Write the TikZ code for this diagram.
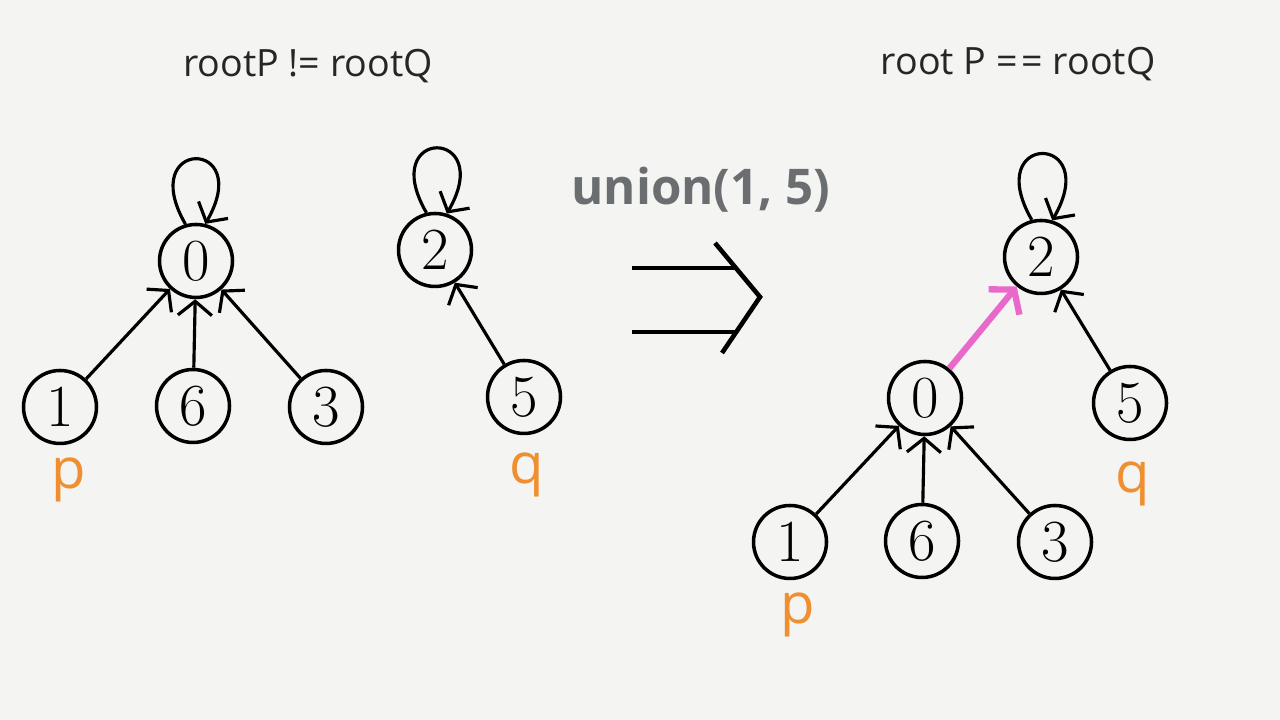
\documentclass[tikz,border=0pt]{standalone}
\usepackage{fontspec}
\usepackage{tikz}
\usetikzlibrary{arrows.meta, positioning}
\newfontfamily\headfont{Open Sans}
\definecolor{paper}{HTML}{F4F4F2}
\definecolor{labelorange}{HTML}{EF8F2F}
\definecolor{uniongray}{HTML}{6B6E70}
\definecolor{linkpink}{HTML}{E869C9}

\begin{document}
\begin{tikzpicture}[
    >={Straight Barb[length=1.4mm, width=3.4mm]},
    elem/.style={circle, draw, line width=1pt, minimum size=0.73cm, inner sep=0pt, font=\fontsize{17}{17}\selectfont},
    link/.style={->, line width=0.9pt},
    newlink/.style={-{Straight Barb[length=1.6mm, width=4mm]}, line width=1.8pt, draw=linkpink},
    ptr/.style={text=labelorange, font=\headfont\fontsize{16}{16}\selectfont, inner sep=0pt},
    caption/.style={font=\headfont\fontsize{10.7}{10.7}\selectfont, text=black!85}
]

% Background
\fill[paper] (0,0) rectangle (12.8,7.2);
\useasboundingbox (0,0) rectangle (12.8,7.2);

% Captions
\node[caption] (capleft) at (3.08,6.54) {rootP != rootQ};
\node[caption] (capright) at (10.18,6.56) {root P =\kern0.1em= rootQ};
\node[font=\headfont\bfseries\fontsize{14}{14}\selectfont, text=uniongray] (op) at (7.01,5.30) {union(1, 5)};

% Before: two trees
\node[elem] (a0) at (1.96,4.59) {0};
\node[elem] (a1) at (0.60,3.13) {1};
\node[elem] (a6) at (1.93,3.14) {6};
\node[elem] (a3) at (3.26,3.13) {3};
\node[elem] (a2) at (4.35,4.70) {2};
\node[elem] (a5) at (5.24,3.23) {5};

\draw[link] (a1) -- (a0);
\draw[link] (a6) -- (a0);
\draw[link] (a3) -- (a0);
\draw[link] (a5) -- (a2);
\draw[link] (a0.106) .. controls +(120:1.0) and +(60:1.0) .. (a0.76);
\draw[link] (a2.103) .. controls +(120:1.0) and +(60:1.0) .. (a2.72);

\node[ptr] (pleft) [below=0.12cm of a1, xshift=0.09cm] {p};
\node[ptr] (qleft) [below=0.17cm of a5, xshift=0.03cm] {q};

% Implies arrow
\coordinate (ia) at (6.32,4.52);
\coordinate (ib) at (7.37,4.52);
\coordinate (ic) at (6.32,3.88);
\coordinate (id) at (7.37,3.88);
\coordinate (ctop) at (7.15,4.77);
\coordinate (ctip) at (7.60,4.23);
\coordinate (cbot) at (7.22,3.67);
\draw[line width=1.3pt] (ia) -- (ib);
\draw[line width=1.3pt] (ic) -- (id);
\draw[line width=1.3pt] (ctop) -- (ctip) -- (cbot);

% After: merged tree
\node[elem] (b2) at (10.41,4.63) {2};
\node[elem] (b5) at (11.30,3.17) {5};
\node[elem] (b0) at (9.25,3.22) {0};
\node[elem] (b1) at (7.90,1.78) {1};
\node[elem] (b6) at (9.22,1.79) {6};
\node[elem] (b3) at (10.55,1.78) {3};

\draw[link] (b1) -- (b0);
\draw[link] (b6) -- (b0);
\draw[link] (b3) -- (b0);
\draw[link] (b5) -- (b2);
\draw[newlink] (b0) -- (b2);
\draw[link] (b2.104) .. controls +(120:1.02) and +(60:1.02) .. (b2.73);

\node[ptr] (pright) [below=0.12cm of b1, xshift=0.08cm] {p};
\node[ptr] (qright) [below=0.2cm of b5, xshift=0.03cm] {q};

\end{tikzpicture}
\end{document}
